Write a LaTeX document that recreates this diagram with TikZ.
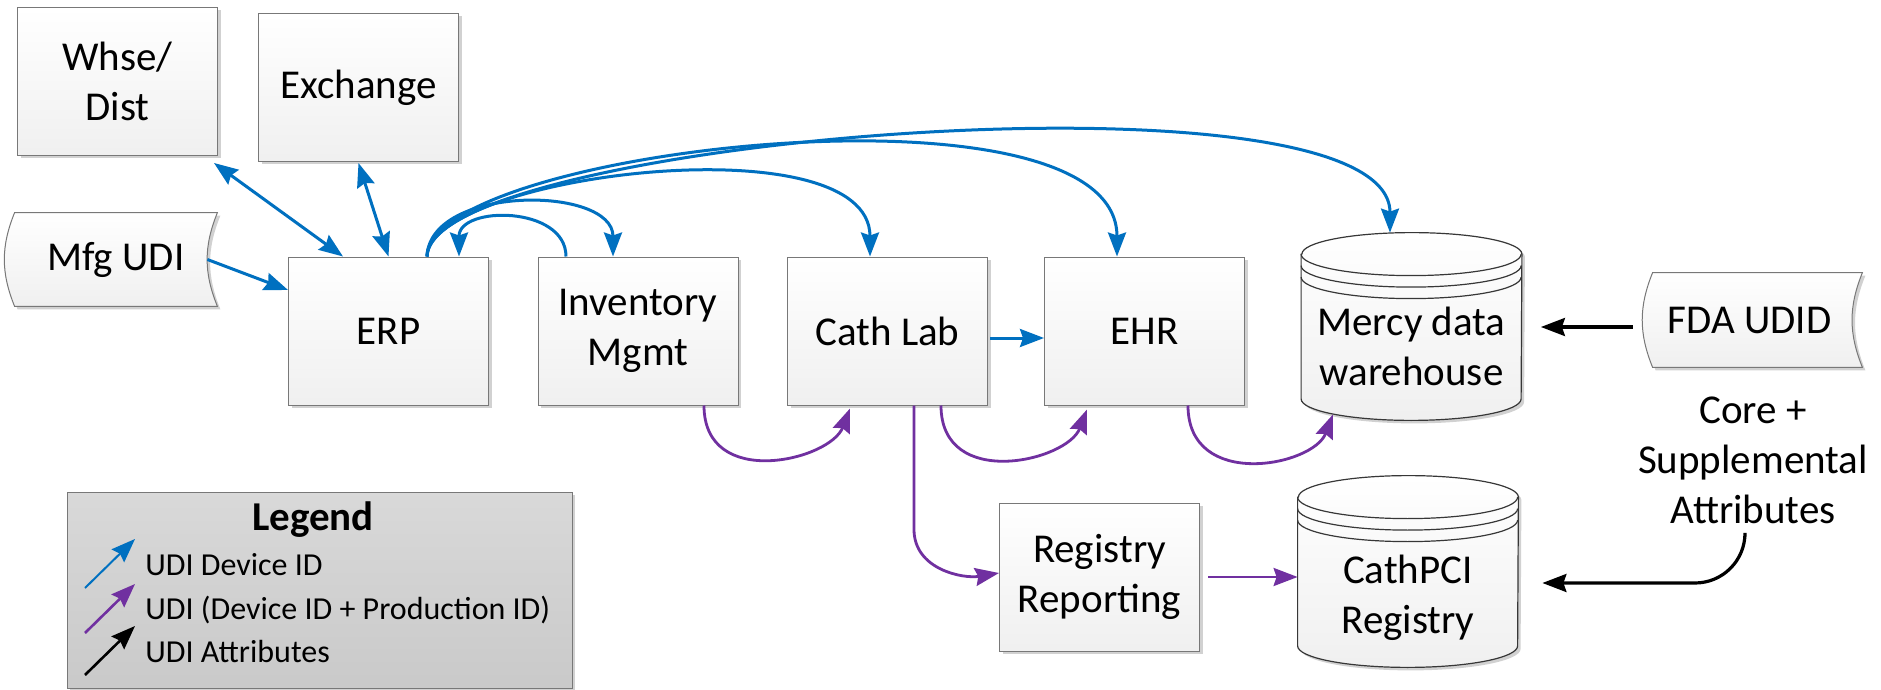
\documentclass[tikz,border=0pt]{standalone}
\usepackage{fontspec}
\setmainfont{Carlito}
\usetikzlibrary{arrows.meta,shadows}

\definecolor{udiblue}{RGB}{0,112,192}
\definecolor{udipurple}{RGB}{112,48,160}
\definecolor{boxline}{RGB}{120,120,120}
\definecolor{drumline}{RGB}{55,55,55}

\newcommand{\lblfont}{\fontsize{20.5pt}{25pt}\selectfont}
\newcommand{\keyfont}{\fontsize{16pt}{19pt}\selectfont}

\tikzset{
  softshadow/.style={drop shadow={shadow xshift=1.5pt,shadow yshift=-1.5pt,opacity=0.18,fill=black}},
  sysbox/.style={draw=boxline, line width=0.5pt, top color=white, bottom color=gray!12, softshadow,
    minimum width=100pt, minimum height=74pt, align=center, font=\lblfont, inner sep=0pt},
  feedbox/.style={minimum width=101pt, minimum height=46.5pt, inner sep=0pt},
  drumbox/.style={minimum width=110pt, inner sep=0pt},
  lbl/.style={align=center, font=\lblfont},
  keytext/.style={anchor=west, font=\keyfont, inner sep=0pt},
  udi/.style={->, draw=udiblue, line width=1.5pt},
  udipid/.style={->, draw=udipurple, line width=1.4pt},
  udiattr/.style={->, draw=black, line width=1.6pt},
  >={Stealth[length=12pt,width=9pt,inset=1.5pt]}
}

% stored data shape round an empty node
\newcommand{\feed}[1]{%
  \draw[draw=boxline, line width=0.5pt, top color=white, bottom color=gray!12, softshadow]
    (#1.north west) -- (#1.north east) to[bend right=22] (#1.south east)
    -- (#1.south west) to[bend left=22] (#1.north west) -- cycle;}

% database drum round an empty node
\newcommand{\drum}[1]{%
  \draw[draw=drumline, line width=0.6pt, top color=white, bottom color=gray!12, softshadow]
    ([yshift=-10.75pt]#1.north west) -- ([yshift=10.75pt]#1.south west)
    arc[start angle=180, end angle=360, x radius=55pt, y radius=10.75pt]
    -- ([yshift=-10.75pt]#1.north east)
    arc[start angle=0, end angle=180, x radius=55pt, y radius=10.75pt] -- cycle;
  \foreach \d in {10.75,16.5,22.25}
    \draw[draw=drumline, line width=0.6pt] ([yshift=-\d pt]#1.north west)
      arc[start angle=180, end angle=360, x radius=55pt, y radius=10.75pt];}

\begin{document}
\begin{tikzpicture}[x=0.5pt,y=-0.5pt]
    \fill[white] (0,0) rectangle (1881,690);
    \useasboundingbox (0,0) rectangle (1881,690);

    % systems
    \node[sysbox] (whse) at (117.5,81.5) {Whse/\\Dist};
    \node[sysbox] (exch) at (358.5,87.5) {Exchange};
    \node[sysbox] (erp) at (388.5,331) {ERP};
    \node[sysbox] (inv) at (638,331) {Inventory\\Mgmt};
    \node[sysbox] (cath) at (887.5,331) {Cath Lab};
    \node[sysbox] (ehr) at (1144.5,331) {EHR};
    \node[sysbox] (rr) at (1099.5,577) {Registry\\Reporting};

    % feeds
    \node[feedbox] (mfg) at (116,259.5) {};
    \feed{mfg}
    \node[lbl] (mfgtext) at (mfg) {Mfg UDI};
    \node[feedbox, minimum width=104.5pt, minimum height=47pt] (fda) at (1757.5,320) {};
    \feed{fda}
    \node[lbl] (fdatext) at ([xshift=-4pt]fda.center) {FDA UDID};

    % databases
    \node[drumbox, minimum height=93.5pt] (mdw) at (1411.5,326.5) {};
    \drum{mdw}
    \node[lbl] (mdwtext) at ([yshift=-10pt]mdw.center) {Mercy data\\warehouse};
    \node[drumbox, minimum height=95.5pt] (pci) at (1408,571.5) {};
    \drum{pci}
    \node[lbl] (pcitext) at ([yshift=-13pt]pci.center) {CathPCI\\Registry};

    \node[lbl] (attr) at (1753,460) {Core +\\Supplemental\\Attributes};

    % UDI device id
    \draw[udi,<->] ([xshift=-2pt,yshift=-3.5pt]whse.south east) -- ([xshift=-22.75pt]erp.north);
    \draw[udi,<->] ([yshift=-0.5pt]exch.south) -- (erp.north);
    \draw[udi] ([xshift=-5pt]mfg.east) -- ([yshift=20.5pt]erp.west);
    \draw[udi] ([xshift=19.25pt]erp.north) .. controls +(1.5pt,36pt) and +(0pt,35.5pt) .. ([xshift=-12.5pt]inv.north);
    \draw[udi] ([xshift=-36pt]inv.north) .. controls +(0pt,25.5pt) and +(0pt,25.5pt) .. ([xshift=35.25pt]erp.north);
    \draw[udi] ([xshift=19.25pt]erp.north) .. controls +(1.5pt,41pt) and +(0pt,68pt) .. ([xshift=-8.75pt]cath.north);
    \draw[udi] ([xshift=19.25pt]erp.north) .. controls +(0pt,53.5pt) and +(0pt,93pt) .. ([xshift=-13.75pt]ehr.north);
    \draw[udi] ([xshift=19.25pt]erp.north) .. controls +(0pt,58.5pt) and +(0pt,86.5pt) .. ([xshift=-10.75pt]mdw.north);
    \draw[udi, shorten <=1pt] ([yshift=-3.5pt]cath.east) -- ([yshift=-3.5pt]ehr.west);

    % UDI device id + production id
    \draw[udipid] ([xshift=33pt]inv.south) .. controls +(0pt,-42.5pt) and +(-10pt,-26pt) .. ([xshift=-18.75pt,yshift=-1.5pt]cath.south);
    \draw[udipid] ([xshift=26.75pt]cath.south) .. controls +(0pt,-42.5pt) and +(-10pt,-26pt) .. ([xshift=-28.75pt,yshift=-2pt]ehr.south);
    \draw[udipid] ([xshift=21.75pt]ehr.south) .. controls +(0pt,-42.5pt) and +(-10pt,-26pt) .. ([xshift=-39.25pt,yshift=3pt]mdw.south);
    \draw[udipid] ([xshift=13.25pt]cath.south) -- ++(0pt,-62pt) .. controls +(0pt,-20pt) and +(-18pt,-3pt) .. ([yshift=2pt]rr.west);
    \draw[udipid, shorten <=4pt] (rr.east) -- (rr.east -| pci.west);

    % UDI attributes
    \draw[udiattr, shorten <=10pt, shorten >=9.5pt] ([yshift=-3.5pt]fda.west) -- ([yshift=-3.5pt]fda.west -| mdw.east);
    \draw[udiattr, rounded corners=25pt, shorten >=12pt] ([xshift=-4pt,yshift=-3pt]attr.south) |- ([yshift=-5.75pt]pci.east);

    % legend
    \node[draw=boxline, line width=0.5pt, top color=gray!30, bottom color=gray!42, softshadow,
          minimum width=252.5pt, minimum height=98pt] (leg) at (319.5,590) {};
    \node[font=\lblfont\bfseries] (legtitle) at (313,520) {Legend};
    \node[keytext] (k1) at (145,565) {UDI Device ID};
    \node[keytext] (k2) at (145,610) {UDI (Device ID + Production ID)};
    \node[keytext] (k3) at (145,652) {UDI Attributes};
    \foreach \k/\c/\w in {k1/udiblue/1pt,k2/udipurple/1.3pt,k3/black/1.3pt}
        \draw[->, draw=\c, line width=\w] ([xshift=-30pt,yshift=-11.5pt]\k.west) -- ([xshift=-5pt,yshift=13pt]\k.west);
\end{tikzpicture}
\end{document}
